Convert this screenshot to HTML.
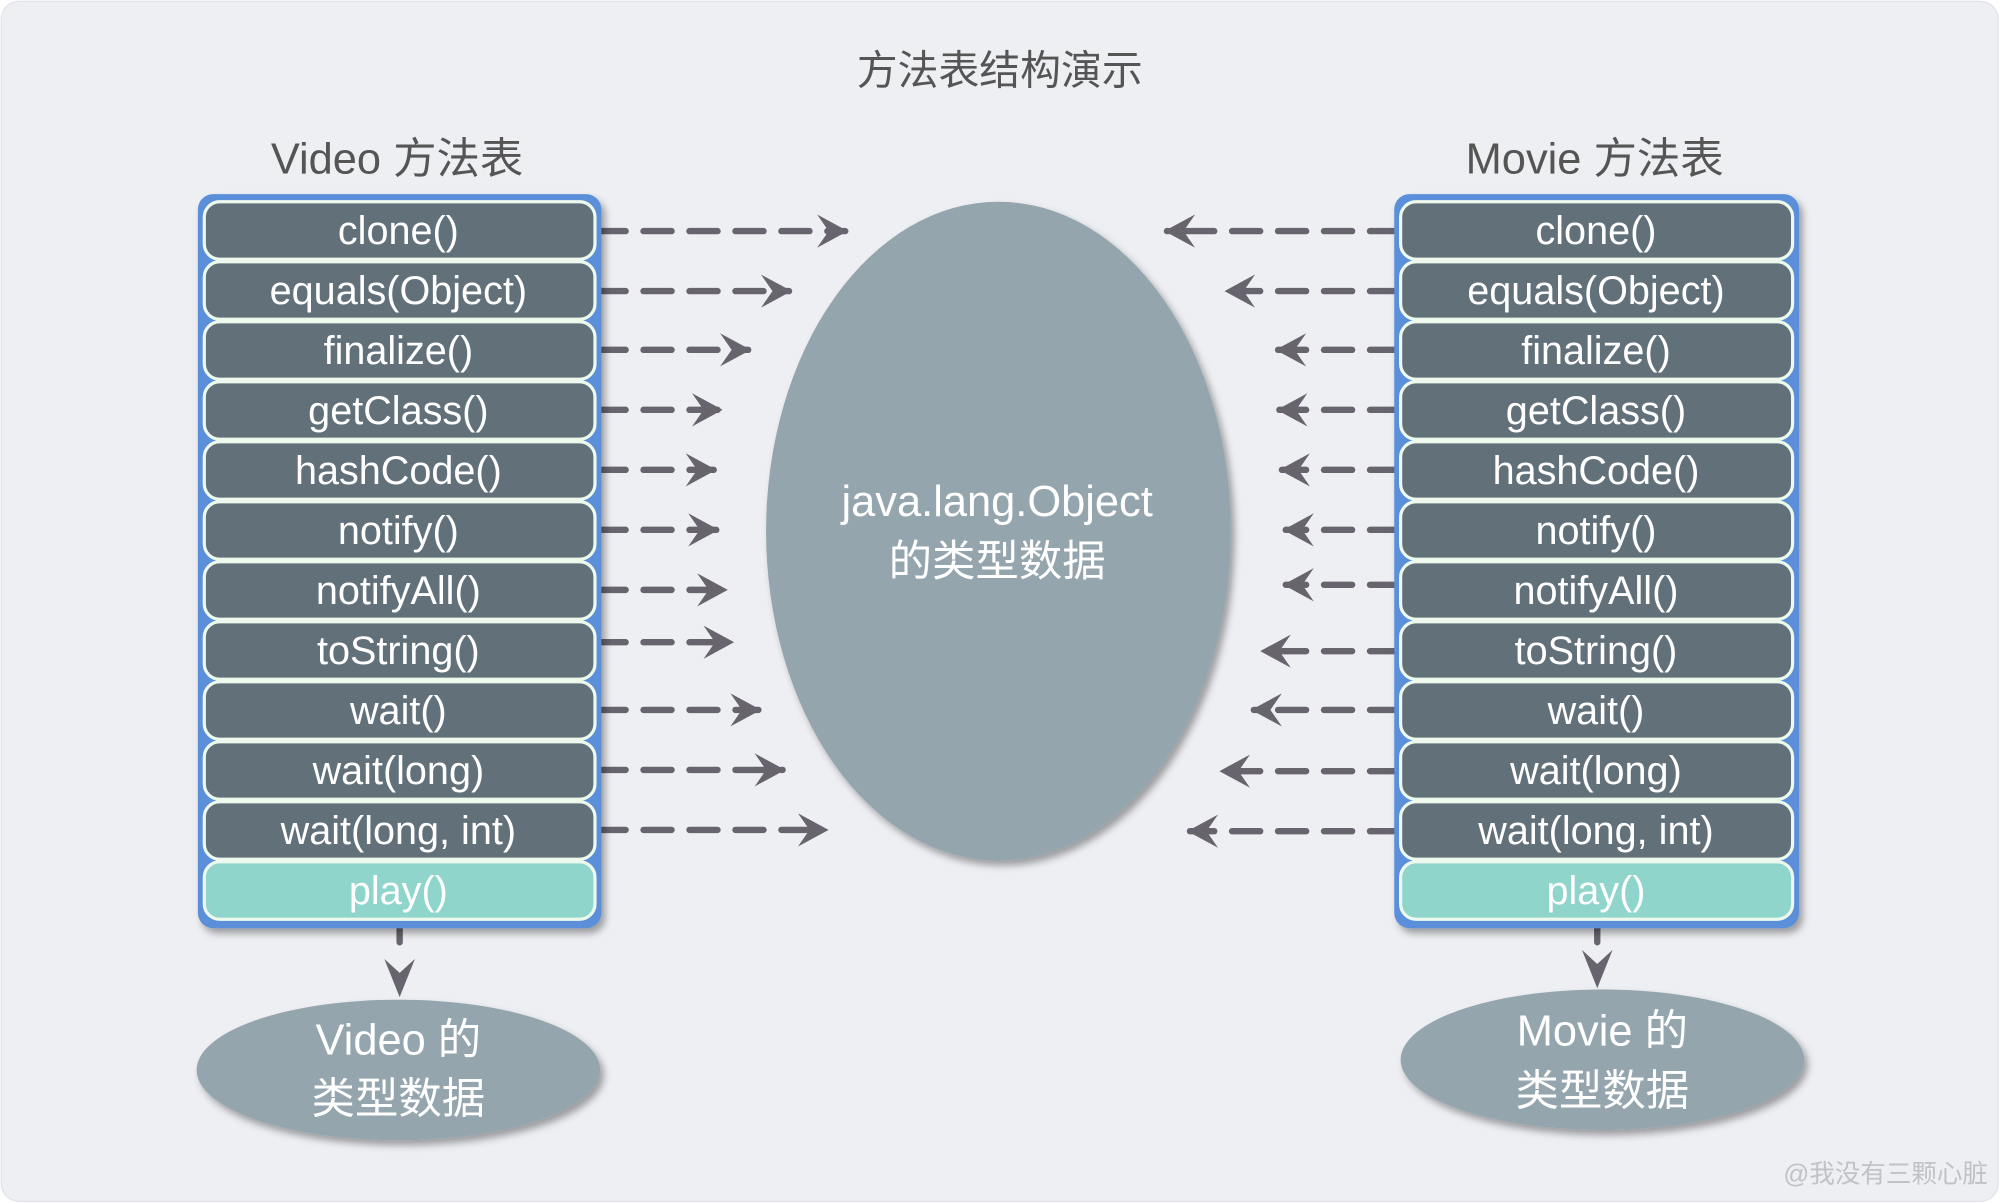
<!DOCTYPE html>
<html><head><meta charset="utf-8"><style>
html,body{margin:0;padding:0;background:#fff;}
svg{display:block;}
text{font-family:"Liberation Sans","Noto Sans CJK SC",sans-serif;}
</style></head><body>
<svg width="2002" height="1204" viewBox="0 0 1568 943" xmlns="http://www.w3.org/2000/svg">
<defs>
<filter id="sh" x="-20%" y="-20%" width="140%" height="140%"><feDropShadow dx="3" dy="4" stdDeviation="3" flood-color="#000" flood-opacity="0.35"/></filter>
<marker id="ah" viewBox="0 0 24 26" refX="22" refY="13" markerWidth="24" markerHeight="26" markerUnits="userSpaceOnUse" orient="auto">
<path d="M24 13 L0 0 L9 13 L0 26 Z" fill="#67646e"/></marker>
</defs>
<rect x="0" y="0" width="1568" height="943" fill="#fff"/>
<rect x="1" y="1" width="1564" height="940" rx="14" fill="#eeeff3" stroke="#e3e4e8"/>
<text x="783" y="66" font-size="32" fill="#555" text-anchor="middle">方法表结构演示</text>
<text x="311" y="136" font-size="34" fill="#555" text-anchor="middle">Video 方法表</text>
<text x="1249" y="136" font-size="34" fill="#555" text-anchor="middle">Movie 方法表</text>

<g stroke="#67646e" stroke-width="5" stroke-linecap="round" stroke-dasharray="22 14" fill="none">
<line x1="468" y1="181" x2="662" y2="181" marker-end="url(#ah)"/>
<line x1="468" y1="228" x2="618" y2="228" marker-end="url(#ah)"/>
<line x1="468" y1="274" x2="586" y2="274" marker-end="url(#ah)"/>
<line x1="468" y1="321" x2="564" y2="321" marker-end="url(#ah)"/>
<line x1="468" y1="368" x2="559" y2="368" marker-end="url(#ah)"/>
<line x1="468" y1="415" x2="561" y2="415" marker-end="url(#ah)"/>
<line x1="468" y1="462" x2="568" y2="462" marker-end="url(#ah)"/>
<line x1="468" y1="503" x2="573" y2="503" marker-end="url(#ah)"/>
<line x1="468" y1="556" x2="594" y2="556" marker-end="url(#ah)"/>
<line x1="468" y1="603" x2="613" y2="603" marker-end="url(#ah)"/>
<line x1="468" y1="650" x2="647" y2="650" marker-end="url(#ah)"/>
<line x1="1095" y1="181" x2="914" y2="181" marker-end="url(#ah)"/>
<line x1="1095" y1="228" x2="961" y2="228" marker-end="url(#ah)"/>
<line x1="1095" y1="274" x2="1001" y2="274" marker-end="url(#ah)"/>
<line x1="1095" y1="321" x2="1002" y2="321" marker-end="url(#ah)"/>
<line x1="1095" y1="368" x2="1004" y2="368" marker-end="url(#ah)"/>
<line x1="1095" y1="415" x2="1007" y2="415" marker-end="url(#ah)"/>
<line x1="1095" y1="458" x2="1007" y2="458" marker-end="url(#ah)"/>
<line x1="1095" y1="510" x2="989" y2="510" marker-end="url(#ah)"/>
<line x1="1095" y1="556" x2="982" y2="556" marker-end="url(#ah)"/>
<line x1="1095" y1="604" x2="957" y2="604" marker-end="url(#ah)"/>
<line x1="1095" y1="651" x2="932" y2="651" marker-end="url(#ah)"/>
<line x1="313" y1="722" x2="313" y2="738" stroke-dasharray="none"/>
<line x1="1251" y1="718" x2="1251" y2="738" stroke-dasharray="none"/>
</g>
<path d="M313 781 L301 751 L313 762 L325 751 Z" fill="#67646e"/>
<path d="M1251 774 L1239 744 L1251 755 L1263 744 Z" fill="#67646e"/>

<ellipse cx="782" cy="416" rx="182" ry="258" fill="#94a5ad" filter="url(#sh)"/>
<text x="781" y="404" font-size="34" fill="#fff" text-anchor="middle">java.lang.Object</text>
<text x="781" y="451" font-size="34" fill="#fff" text-anchor="middle">的类型数据</text>

<ellipse cx="312" cy="838" rx="158" ry="55" fill="#94a5ad" filter="url(#sh)"/>
<text x="312" y="826" font-size="34" fill="#fff" text-anchor="middle">Video 的</text>
<text x="312" y="872" font-size="34" fill="#fff" text-anchor="middle">类型数据</text>
<ellipse cx="1255" cy="830" rx="158" ry="55" fill="#94a5ad" filter="url(#sh)"/>
<text x="1255" y="819" font-size="34" fill="#fff" text-anchor="middle">Movie 的</text>
<text x="1255" y="866" font-size="34" fill="#fff" text-anchor="middle">类型数据</text>

<rect x="155" y="152" width="316" height="575" rx="12" fill="#5b8fd9" filter="url(#sh)"/>
<rect x="1092" y="152" width="317" height="575" rx="12" fill="#5b8fd9" filter="url(#sh)"/>

<g stroke="#eef9ee" stroke-width="2.5" fill="#617079">
<rect x="160" y="158" width="306" height="45" rx="12"/>
<rect x="160" y="205" width="306" height="45" rx="12"/>
<rect x="160" y="252" width="306" height="45" rx="12"/>
<rect x="160" y="299" width="306" height="45" rx="12"/>
<rect x="160" y="346" width="306" height="45" rx="12"/>
<rect x="160" y="393" width="306" height="45" rx="12"/>
<rect x="160" y="440" width="306" height="45" rx="12"/>
<rect x="160" y="487" width="306" height="45" rx="12"/>
<rect x="160" y="534" width="306" height="45" rx="12"/>
<rect x="160" y="581" width="306" height="45" rx="12"/>
<rect x="160" y="628" width="306" height="45" rx="12"/>
<rect x="160" y="675" width="306" height="45" rx="12" fill="#8fd5cc"/>
<rect x="1097" y="158" width="307" height="45" rx="12"/>
<rect x="1097" y="205" width="307" height="45" rx="12"/>
<rect x="1097" y="252" width="307" height="45" rx="12"/>
<rect x="1097" y="299" width="307" height="45" rx="12"/>
<rect x="1097" y="346" width="307" height="45" rx="12"/>
<rect x="1097" y="393" width="307" height="45" rx="12"/>
<rect x="1097" y="440" width="307" height="45" rx="12"/>
<rect x="1097" y="487" width="307" height="45" rx="12"/>
<rect x="1097" y="534" width="307" height="45" rx="12"/>
<rect x="1097" y="581" width="307" height="45" rx="12"/>
<rect x="1097" y="628" width="307" height="45" rx="12"/>
<rect x="1097" y="675" width="307" height="45" rx="12" fill="#8fd5cc"/>
</g>
<g font-size="31" fill="#fff" text-anchor="middle">
<text x="312" y="191">clone()</text>
<text x="312" y="238">equals(Object)</text>
<text x="312" y="285">finalize()</text>
<text x="312" y="332">getClass()</text>
<text x="312" y="379">hashCode()</text>
<text x="312" y="426">notify()</text>
<text x="312" y="473">notifyAll()</text>
<text x="312" y="520">toString()</text>
<text x="312" y="567">wait()</text>
<text x="312" y="614">wait(long)</text>
<text x="312" y="661">wait(long, int)</text>
<text x="312" y="708">play()</text>
<text x="1250" y="191">clone()</text>
<text x="1250" y="238">equals(Object)</text>
<text x="1250" y="285">finalize()</text>
<text x="1250" y="332">getClass()</text>
<text x="1250" y="379">hashCode()</text>
<text x="1250" y="426">notify()</text>
<text x="1250" y="473">notifyAll()</text>
<text x="1250" y="520">toString()</text>
<text x="1250" y="567">wait()</text>
<text x="1250" y="614">wait(long)</text>
<text x="1250" y="661">wait(long, int)</text>
<text x="1250" y="708">play()</text>
</g>
<text x="1557" y="926" font-size="20" fill="#c0c2c6" text-anchor="end">@我没有三颗心脏</text>
</svg>
</body></html>
